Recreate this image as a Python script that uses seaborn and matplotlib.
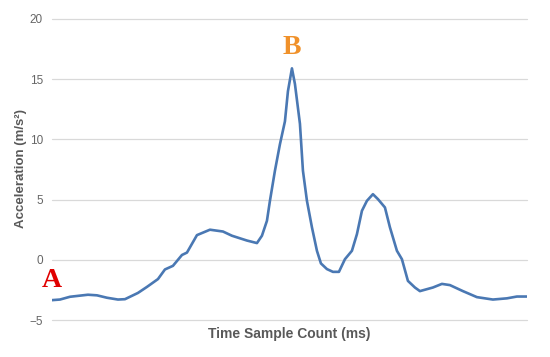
import matplotlib
matplotlib.use("Agg")
import matplotlib.pyplot as plt
import seaborn as sns
import pandas as pd

# sample index (no x tick labels on the chart) and acceleration values
samples = [0, 8, 18, 36, 45, 55, 66, 73, 86, 95, 106, 113, 121, 130, 135, 145,
           158, 171, 180, 195, 205, 210, 215, 218, 223, 228, 233, 236, 240, 243,
           248, 251, 255, 260, 265, 269, 275, 281, 287, 293, 300, 305, 310, 315,
           321, 326, 333, 338, 345, 350, 356, 363, 368, 381, 390, 398, 411, 425,
           441, 455, 465, 475]
accel = [-3.35, -3.3, -3.07, -2.9, -2.95, -3.15, -3.3, -3.27, -2.75, -2.25,
         -1.6, -0.8, -0.5, 0.4, 0.6, 2.05, 2.5, 2.35, 2.0, 1.6, 1.39, 2.0, 3.24,
         4.9, 7.4, 9.6, 11.5, 14.0, 15.9, 14.6, 11.3, 7.4, 4.9, 2.7, 0.75, -0.3,
         -0.77, -1.0, -1.0, 0.05, 0.75, 2.13, 4.07, 4.9, 5.45, 5.04, 4.35, 2.7,
         0.75, 0.05, -1.75, -2.3, -2.6, -2.3, -2.0, -2.1, -2.6, -3.1, -3.3, -3.2,
         -3.05, -3.05]
yticks = [-5, 0, 5, 10, 15, 20]

df = pd.DataFrame({"sample": samples, "accel": accel})

sns.set_style("white")
plt.rcParams["font.family"] = ["Liberation Sans", "DejaVu Sans"]

fig = plt.figure(figsize=(5.5, 3.57), dpi=100)
ax = fig.add_axes([0.0945, 0.1036, 0.8635, 0.8432])

sns.lineplot(data=df, x="sample", y="accel", ax=ax, color="#4a78b3",
             linewidth=1.9, solid_joinstyle="round")

ax.set_xlim(0, 475)
ax.set_ylim(-5, 20)
ax.set_yticks(yticks)
ax.set_xticks([])
ax.grid(axis="y", color="#d9d9d9", linewidth=0.9)
for gl in ax.get_ygridlines():
    gl.set_clip_on(False)
ax.set_axisbelow(True)
for s in ax.spines.values():
    s.set_visible(False)
ax.tick_params(axis="y", length=0, pad=6.5, labelsize=8.5, labelcolor="#666666")

ax.set_xlabel("Time Sample Count (ms)", fontsize=10, fontweight="bold", color="#595959", labelpad=5)
ax.set_ylabel("Acceleration (m/s²)", fontsize=9.5, fontweight="bold", color="#595959")
ax.yaxis.set_label_coords(-0.052, 0.503)

ax.text(0, -1.7, "A", fontsize=20, fontweight="bold", color="#e00000",
        family="Liberation Serif", ha="center", va="center")
ax.text(240, 17.6, "B", fontsize=20, fontweight="bold", color="#f0912a",
        family="Liberation Serif", ha="center", va="center")

fig.savefig("out.png", dpi=100)
